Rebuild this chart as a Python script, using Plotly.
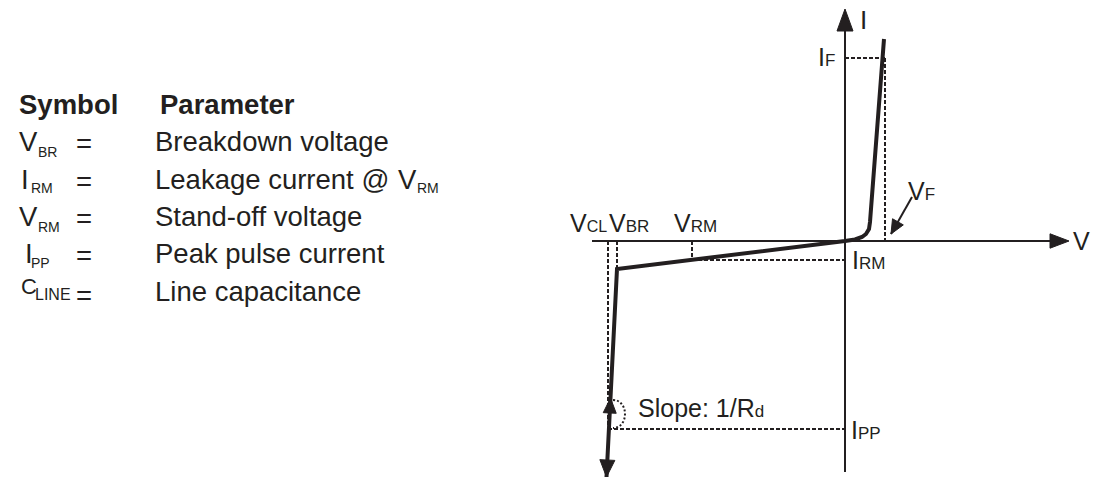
import plotly.graph_objects as go

# ---------------- data (diagram units: V to the right, I upward) ----------------
V_CL = -23.7   # clamping voltage
V_BR = -22.8   # breakdown voltage
V_RM = -15.3   # stand-off voltage
V_F = 4.0      # forward voltage
I_F = 18.3     # forward current
I_RM = -1.9    # leakage current
I_PP = -18.8   # peak pulse current

# reverse (breakdown) branch, bottom -> origin
rev_v = [-23.85, -22.8, 0.0]
rev_i = [-23.6, -2.8, 0.0]
# forward branch, origin -> top
fwd_v = [0.0, 1.0, 1.7, 2.1, 2.4, 2.5, 3.9]
fwd_i = [0.0, 0.15, 0.4, 0.7, 1.2, 1.9, 20.2]

# axis extents
v_axis = [-25.3, 22.4]
i_axis = [-23.1, 23.2]

slope_tip_i = -15.7          # tip of the upward arrow on the breakdown line
vf_tail = (6.7, 4.4)         # V_F pointer
vf_tip = (4.6, 0.7)

# table
symbol_main = ["V", "I", "V", "I", "C"]
symbol_sub = ["BR", "RM", "RM", "PP", "LINE"]
param_text = ["Breakdown voltage", "Leakage current @", "Stand-off voltage",
              "Peak pulse current", "Line capacitance"]

# ---------------- styling / layout ----------------
INK = "#231f20"
FONT = "Liberation Sans, Arial, Helvetica, sans-serif"
W, H = 1101, 485
OX, OY, S = 845, 241, 10.0   # pixel origin of diagram, px per unit


def pv(px):
    return (px - OX) / S


def pi_(py):
    return (OY - py) / S


fig = go.Figure()


def seg(x0, y0, x1, y1, width=2.0, dash="4px,2px"):
    fig.add_trace(go.Scatter(x=[x0, x1], y=[y0, y1], mode="lines",
                             line=dict(color=INK, width=width, dash=dash),
                             hoverinfo="skip"))


def head(tip, tail, length, half):
    dx, dy = tip[0] - tail[0], tip[1] - tail[1]
    n = (dx ** 2 + dy ** 2) ** 0.5
    ux, uy = dx / n, dy / n
    bx, by = tip[0] - length * ux, tip[1] - length * uy
    px_, py_ = -uy, ux
    xs = [tip[0], bx + half * px_, bx - half * px_, tip[0]]
    ys = [tip[1], by + half * py_, by - half * py_, tip[1]]
    fig.add_trace(go.Scatter(x=xs, y=ys, mode="lines", fill="toself",
                             fillcolor=INK, line=dict(color=INK, width=1),
                             hoverinfo="skip"))


# dashed guides
seg(0, I_F, V_F, I_F)
seg(V_F, I_F, V_F, 0)
seg(V_CL, 0, V_CL, I_PP)
seg(V_BR, 0, V_BR, rev_i[1])
seg(V_RM, 0, V_RM, I_RM)
seg(V_RM, I_RM, 0, I_RM)
seg(V_CL, I_PP, 0, I_PP)

# axes
seg(v_axis[0], 0, v_axis[1] - 1.0, 0, width=2, dash="solid")
seg(0, i_axis[0], 0, i_axis[1] - 1.0, width=2, dash="solid")
head((v_axis[1], 0), (0, 0), 1.9, 0.72)
head((0, i_axis[1]), (0, 0), 2.2, 0.8)

# characteristic curve
curve_v = rev_v + fwd_v[1:]
curve_i = rev_i + fwd_i[1:]
fig.add_trace(go.Scatter(x=curve_v, y=curve_i, mode="lines",
                         line=dict(color=INK, width=4),
                         hoverinfo="skip"))

# arrowheads on breakdown line
bottom = (rev_v[0], rev_i[0])
knee = (rev_v[1], rev_i[1])
head(bottom, knee, 1.7, 0.75)
t = (slope_tip_i - bottom[1]) / (knee[1] - bottom[1])
up_tip = (bottom[0] + t * (knee[0] - bottom[0]), slope_tip_i)
head(up_tip, bottom, 1.5, 0.65)

# V_F pointer
seg(vf_tail[0], vf_tail[1], vf_tip[0], vf_tip[1], width=2, dash="solid")
head(vf_tip, vf_tail, 1.4, 0.62)

# dotted slope arc
cx, cy, rx, ry = up_tip[0] + 0.25, up_tip[1] - 1.6, 1.2, 1.4
k = 4.0 / 3.0
fig.add_shape(type="path",
              path=f"M{cx},{cy + ry} C{cx + k * rx},{cy + ry} {cx + k * rx},{cy - ry} {cx},{cy - ry}",
              xref="x", yref="y", line=dict(color=INK, width=2, dash="2px,2px"))


# ---------------- text ----------------
def txt(text, xpx, ypx, size, bold=False, paper=True):
    if bold:
        text = f"<b>{text}</b>"
    if paper:
        kw = dict(xref="paper", yref="paper", x=xpx / W, y=1 - ypx / H)
    else:
        kw = dict(xref="x", yref="y", x=pv(xpx), y=pi_(ypx))
    fig.add_annotation(text=text, showarrow=False, xanchor="left", yanchor="middle",
                       borderpad=0, borderwidth=0,
                       font=dict(family=FONT, size=size, color=INK), **kw)


def sub(main, s, ssize=17):
    return f"{main}<span style='font-size:{ssize}px'>{s}</span>"


# table
txt("Symbol", 19, 104.5, 27.5, bold=True)
txt("Parameter", 160, 104.5, 27.5, bold=True)
main_x = [19, 21, 19, 25, 21]
main_y = [141, 179, 217, 253, 286.5]
main_size = [27.5, 27.5, 27.5, 27.5, 22]
sub_x = [38, 31, 38, 31, 35]
sub_y = [151.5, 188.5, 227, 263, 294]
sub_size = [14, 14, 14, 14, 16]
eq_y = [143, 181, 219, 255, 295]
par_y = [141, 179, 217, 253, 291]
for k_ in range(5):
    txt(symbol_main[k_], main_x[k_], main_y[k_], main_size[k_])
    txt(symbol_sub[k_], sub_x[k_], sub_y[k_], sub_size[k_])
    txt("=", 76, eq_y[k_], 27.5)
    txt(param_text[k_], 155, par_y[k_], 27.5)
txt("V", 398, 179, 27.5)
txt("RM", 417, 188.5, 14)

# diagram labels
txt("I", 860, 20, 26, paper=False)
txt("V", 1073, 240.5, 25, paper=False)
txt(sub("I", "F"), 818, 57, 25, paper=False)
txt(sub("V", "F"), 908, 191, 25, paper=False)
txt(sub("V", "CL", 16), 570, 223, 25, paper=False)
txt(sub("V", "BR"), 609, 223, 25, paper=False)
txt(sub("V", "RM"), 674, 223, 25, paper=False)
txt(sub("I", "RM"), 852, 259.5, 25, paper=False)
txt(sub("I", "PP"), 851, 430, 25, paper=False)
txt("Slope: 1/" + sub("R", "d"), 638, 407.5, 25, paper=False)

for tr in fig.data:
    tr.showlegend = False

fig.update_layout(
    width=W, height=H, margin=dict(l=0, r=0, t=0, b=0, pad=0),
    paper_bgcolor="white", plot_bgcolor="white", showlegend=False,
    xaxis=dict(range=[pv(0), pv(W)], visible=False, fixedrange=True),
    yaxis=dict(range=[pi_(H), pi_(0)], visible=False, fixedrange=True),
)

fig.write_html("out.html",
               post_script="document.body.style.margin='0';document.body.style.overflow='hidden';",
               config={"displayModeBar": False})
